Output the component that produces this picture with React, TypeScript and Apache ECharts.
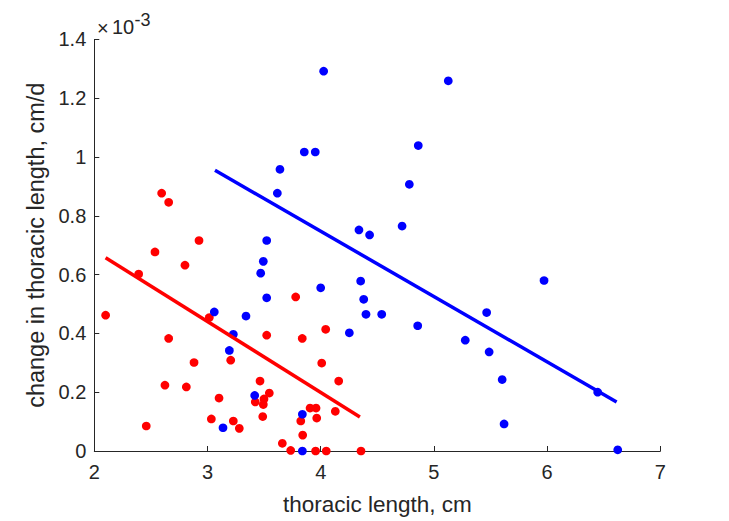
import React, { useEffect, useRef } from "react";
import * as echarts from "echarts";

// x: thoracic length (cm); y: change in thoracic length (units of 1e-3 cm/d)
const redX = [2.100, 2.392, 2.459, 2.536, 2.595, 2.657, 2.624, 2.657, 2.801, 2.813, 2.881, 2.925, 3.016, 3.034, 3.102, 3.205, 3.228, 3.281, 3.422, 3.464, 3.488, 3.493, 3.499, 3.523, 3.546, 3.661, 3.735, 3.779, 3.824, 3.837, 3.841, 3.906, 3.959, 3.965, 3.955, 4.009, 4.044, 4.049, 4.129, 4.159, 4.356];
const redY = [0.462, 0.602, 0.085, 0.677, 0.877, 0.846, 0.224, 0.383, 0.632, 0.218, 0.301, 0.716, 0.454, 0.109, 0.180, 0.309, 0.102, 0.077, 0.167, 0.238, 0.117, 0.158, 0.177, 0.394, 0.197, 0.026, 0.002, 0.524, 0.102, 0.383, 0.054, 0.146, 0.146, 0.112, 0.000, 0.299, 0.414, 0.000, 0.135, 0.238, 0.000];

const blueX = [3.060, 3.137, 3.193, 3.228, 3.340, 3.417, 3.470, 3.493, 3.523, 3.523, 3.617, 3.640, 3.838, 3.838, 3.855, 3.952, 4.000, 4.026, 4.253, 4.338, 4.353, 4.380, 4.400, 4.432, 4.539, 4.719, 4.783, 4.857, 4.862, 5.127, 5.277, 5.466, 5.488, 5.603, 5.620, 5.973, 6.447, 6.624];
const blueY = [0.473, 0.079, 0.342, 0.397, 0.459, 0.189, 0.605, 0.645, 0.716, 0.521, 0.877, 0.958, 0.125, 0.000, 1.017, 1.017, 0.555, 1.292, 0.402, 0.752, 0.578, 0.516, 0.465, 0.735, 0.465, 0.765, 0.907, 0.426, 1.039, 1.259, 0.377, 0.471, 0.337, 0.243, 0.092, 0.580, 0.200, 0.004];

// regression line end points
const redFitX = [2.10, 4.346];
const redFitY = [0.657, 0.116];
const blueFitX = [3.066, 6.614];
const blueFitY = [0.955, 0.167];

const xTicks = { min: 2, max: 7, interval: 1 };
const yTicks = { min: 0, max: 1.4, interval: 0.2 };

const xTitle = "thoracic length, cm";
const yTitle = "change in thoracic length, cm/d";

const zip = (a: number[], b: number[]) => a.map((v, i) => [v, b[i]]);

const FONT = "'Liberation Sans', Arial, Helvetica, sans-serif";
const TXT = "#262626";

export default function App() {
  const ref = useRef<HTMLDivElement>(null);
  useEffect(() => {
    if (!ref.current) return;
    const chart = echarts.init(ref.current, null, { renderer: "svg" });
    const axisCommon = {
      axisLine: { show: true, lineStyle: { color: TXT, width: 1 } },
      axisTick: { show: true, inside: true, length: 5, lineStyle: { color: TXT } },
      splitLine: { show: false },
    };
    chart.setOption({
      animation: false,
      backgroundColor: "#ffffff",
      textStyle: { fontFamily: FONT },
      grid: { left: 94.3, right: 68.7, top: 39.4, bottom: 67.7, containLabel: false },
      xAxis: {
        type: "value",
        ...xTicks,
        ...axisCommon,
        axisLabel: { color: TXT, fontSize: 20, fontFamily: FONT, margin: 11 },
        name: xTitle,
        nameLocation: "middle",
        nameGap: 42,
        nameTextStyle: { color: TXT, fontSize: 22.5, fontFamily: FONT },
      },
      yAxis: {
        type: "value",
        ...yTicks,
        ...axisCommon,
        axisLabel: { color: TXT, fontSize: 20, fontFamily: FONT, margin: 8 },
        name: yTitle,
        nameLocation: "middle",
        nameGap: 44.5,
        nameTextStyle: { color: TXT, fontSize: 23.5, fontFamily: FONT },
      },
      graphic: [
        {
          type: "text",
          x: 97,
          y: 28,
          style: { text: "×", fill: TXT, fontSize: 20, fontFamily: FONT, verticalAlign: "middle", align: "left" },
        },
        {
          type: "text",
          x: 112,
          y: 27,
          style: { text: "10", fill: TXT, fontSize: 20, fontFamily: FONT, verticalAlign: "middle", align: "left" },
        },
        {
          type: "text",
          x: 134.5,
          y: 19.5,
          style: { text: "-3", fill: TXT, fontSize: 18, fontFamily: FONT, verticalAlign: "middle", align: "left" },
        },
      ],
      series: [
        {
          type: "scatter",
          data: zip(redX, redY),
          symbol: "circle",
          symbolSize: 8.7,
          itemStyle: { color: "#ff0000", opacity: 1 },
        },
        {
          type: "scatter",
          data: zip(blueX, blueY),
          symbol: "circle",
          symbolSize: 8.7,
          itemStyle: { color: "#0000ff", opacity: 1 },
        },
        {
          type: "line",
          data: zip(redFitX, redFitY),
          symbol: "none",
          lineStyle: { color: "#ff0000", width: 3.5 },
          z: 3,
        },
        {
          type: "line",
          data: zip(blueFitX, blueFitY),
          symbol: "none",
          lineStyle: { color: "#0000ff", width: 3.5 },
          z: 3,
        },
      ],
    });
    return () => chart.dispose();
  }, []);
  return (
    <div
      ref={ref}
      style={{ position: "fixed", left: 0, top: 0, width: 729, height: 521, background: "#fff" }}
    />
  );
}
